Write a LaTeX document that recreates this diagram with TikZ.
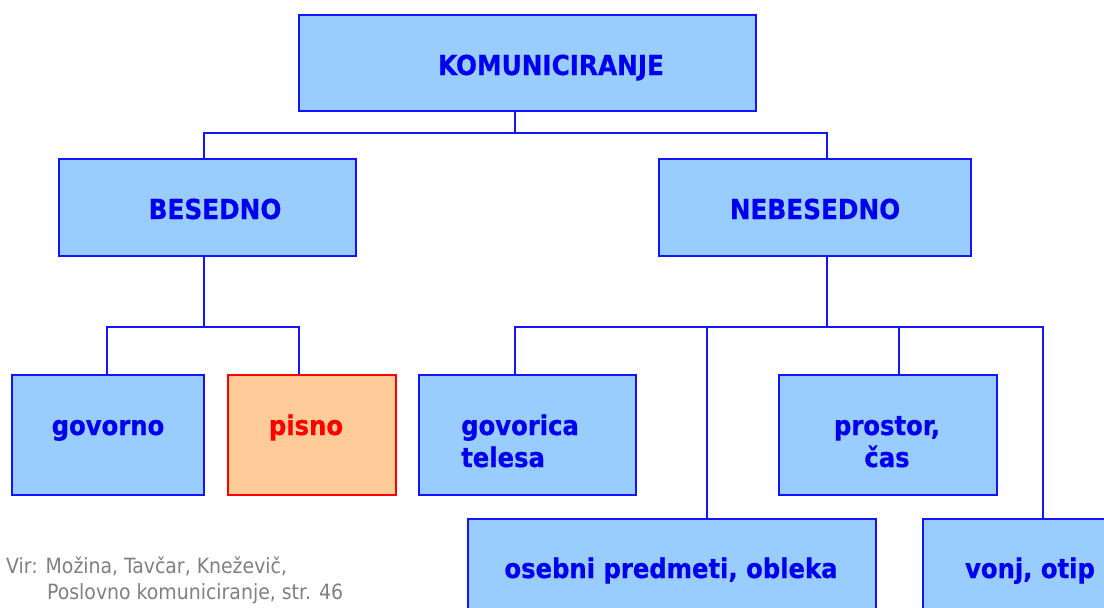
\documentclass[tikz,border=0pt]{standalone}
\usepackage{fontspec}
\setmainfont{DejaVu Sans Condensed}[BoldFeatures={FakeBold=0.6}]
\begin{document}
\begin{tikzpicture}[x=1pt,y=-1pt,
  box/.style={draw=boxline,fill=boxfill,line width=2.2pt,inner sep=0pt,anchor=north west},
  redbox/.style={box,draw=red,fill=warmfill},
  head/.style={text=textblue,font=\bfseries\fontsize{27.5}{32}\selectfont,inner sep=0pt,anchor=base},
  leaf/.style={text=textblue,font=\bfseries\fontsize{27}{32}\selectfont,inner sep=0pt,anchor=base},
  wire/.style={draw=boxline,line width=2.2pt},
  note/.style={text=notegray,font=\fontsize{21}{24}\selectfont,inner sep=0pt,anchor=base west}]
\definecolor{boxfill}{HTML}{99CCFF}
\definecolor{boxline}{HTML}{1414FF}
\definecolor{textblue}{HTML}{0000EE}
\definecolor{warmfill}{HTML}{FFCC99}
\definecolor{notegray}{HTML}{808080}
\clip (0,0) rectangle (1104,608);
\fill[white] (0,0) rectangle (1104,608);

% boxes
\node[box,minimum width=457pt,minimum height=96pt] (kom) at (298,14) {};
\node[box,minimum width=297pt,minimum height=97pt] (bes) at (58,158) {};
\node[box,minimum width=312pt,minimum height=97pt] (neb) at (658,158) {};
\node[box,minimum width=192pt,minimum height=120pt] (gov) at (11,374) {};
\node[redbox,minimum width=168pt,minimum height=120pt] (pis) at (227,374) {};
\node[box,minimum width=217pt,minimum height=120pt] (tel) at (418,374) {};
\node[box,minimum width=218pt,minimum height=120pt] (pro) at (778,374) {};
\node[box,minimum width=408pt,minimum height=120pt] (obl) at (467,518) {};
\node[box,minimum width=200pt,minimum height=120pt] (von) at (922,518) {};

% labels (placed on their baselines; two-line labels on the last line)
\node[head] (komt) at (551,75) {KOMUNICIRANJE};
\node[head] (best) at (215,219) {BESEDNO};
\node[head] (nebt) at (815,219) {NEBESEDNO};
\node[leaf] (govt) at (108,435) {govorno};
\node[leaf,text=red] (pist) at (306,435) {pisno};
\node[leaf,align=left,anchor=base west] (telt) at (461,467) {govorica\\telesa};
\node[leaf,align=center] (prot) at (887,467) {prostor,\\čas};
\node[leaf] (oblt) at (671,578) {osebni predmeti, obleka};
\node[leaf] (vont) at (1030,578) {vonj, otip};

% bus points
\coordinate (k) at (515,133);
\coordinate (kb) at (204,133);
\coordinate (kn) at (827,133);
\coordinate (b) at (204,327);
\coordinate (b1) at (107,327);
\coordinate (b2) at (299,327);
\coordinate (n) at (827,327);
\coordinate (n1) at (515,327);
\coordinate (n2) at (707,327);
\coordinate (n3) at (899,327);
\coordinate (n4) at (1043,327);

% connectors
\draw[wire] (k |- kom.south) -- (k);
\draw[wire] (kb |- bes.north) -- (kb) -- (kn) -- (kn |- neb.north);
\draw[wire] (b |- bes.south) -- (b);
\draw[wire] (b1 |- gov.north) -- (b1) -- (b2) -- (b2 |- pis.north);
\draw[wire] (n |- neb.south) -- (n);
\draw[wire] (n1 |- tel.north) -- (n1) -- (n4) -- (n4 |- von.north);
\draw[wire] (n2) -- (n2 |- obl.north);
\draw[wire] (n3) -- (n3 |- pro.north);

% source note
\node[note] (src1) at (6,573) {Vir: Možina, Tavčar, Kneževič,};
\node[note] (src2) at (47,599) {Poslovno komuniciranje, str. 46};
\end{tikzpicture}
\end{document}
